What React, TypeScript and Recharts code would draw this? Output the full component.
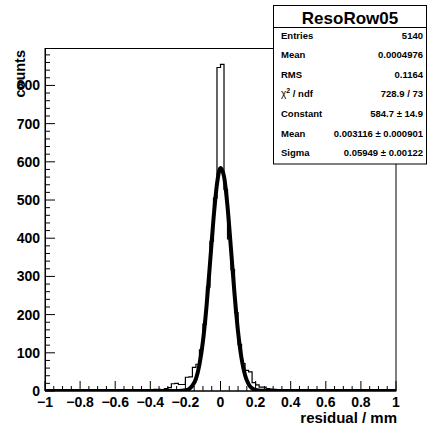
import { ComposedChart, Line, XAxis, YAxis } from "recharts";

// histogram: 100 bins of 0.02 from -1 to 1
const binLow = -1;
const binWidth = 0.02;
const counts = [
  0, 1, 0, 1, 0, 0, 1, 0, 1, 1,
  0, 1, 1, 0, 1, 0, 1, 2, 0, 1,
  1, 0, 2, 1, 1, 0, 2, 1, 1, 2,
  1, 4, 4, 2, 6, 9, 19, 20, 17, 17,
  36, 37, 62, 70, 108, 175, 272, 392, 505, 847,
  855, 528, 398, 318, 205, 122, 72, 54, 50, 22,
  16, 10, 10, 6, 5, 4, 3, 3, 2, 2,
  1, 1, 0, 2, 1, 0, 1, 1, 0, 1,
  0, 1, 0, 0, 1, 1, 0, 1, 0, 0,
  1, 0, 0, 1, 0, 0, 1, 0, 0, 1,
];

// gaussian fit curve
const fitX = [-1, -0.4, -0.3, -0.24, -0.2, -0.18, -0.16, -0.14, -0.12, -0.1, -0.08, -0.06, -0.04, -0.02, 0, 0.02, 0.04, 0.06, 0.08, 0.1, 0.12, 0.14, 0.16, 0.18, 0.2, 0.24, 0.3, 0.4, 1];
const fitY = [0, 0, 0, 0.3, 2, 5, 14, 32, 69, 130, 220, 333, 450, 542, 584, 562, 483, 370, 254, 155, 85, 41, 18, 7, 2.5, 0.4, 0, 0, 0];

const xLabels = [-1, -0.8, -0.6, -0.4, -0.2, 0, 0.2, 0.4, 0.6, 0.8, 1];
const yLabels = [0, 100, 200, 300, 400, 500, 600, 700, 800];
const yMax = 898;

const statsTitle = "ResoRow05";
const statsRows = [
  ["Entries", "5140"],
  ["Mean", "0.0004976"],
  ["RMS", "0.1164"],
  ["chi2", "728.9 / 73"],
  ["Constant", "584.7 \u00b1 14.9"],
  ["Mean", "0.003116 \u00b1 0.000901"],
  ["Sigma", "0.05949 \u00b1 0.00122"],
];

const FONT = '"Liberation Sans", Arial, Helvetica, sans-serif';

const histData = counts.map((c, i) => ({ x: binLow + i * binWidth, y: c }));
histData.push({ x: binLow + counts.length * binWidth, y: counts[counts.length - 1] });
const fitData = fitX.map((x, i) => ({ x, y: fitY[i] }));

const xTicks: number[] = [];
for (let k = 0; k <= 40; k++) xTicks.push(Math.round((-1 + k * 0.05) * 1000) / 1000);
const yTicks: number[] = [];
for (let k = 0; k <= 44; k++) yTicks.push(k * 20);

const fmt = (v: number) => {
  if (Math.abs(v) < 1e-9) return "0";
  const s = String(Math.round(Math.abs(v) * 10) / 10);
  return v < 0 ? "\u2212" + s : s;
};

const XTick = (props: any) => {
  const { x, y, payload } = props;
  const v = payload.value;
  const major = xLabels.some((l) => Math.abs(l - v) < 1e-6);
  return (
    <g>
      <line x1={x} x2={x} y1={y} y2={y - (major ? 10 : 5)} stroke="#000" strokeWidth={1} />
      {major && (
        <text x={x} y={y + 16} textAnchor="middle" fontFamily={FONT} fontWeight="bold" fontSize={14} fill="#000">
          {fmt(v)}
        </text>
      )}
    </g>
  );
};

const YTick = (props: any) => {
  const { x, y, payload } = props;
  const v = payload.value;
  const major = yLabels.includes(v);
  return (
    <g>
      <line x1={x} x2={x + (major ? 10 : 5)} y1={y} y2={y} stroke="#000" strokeWidth={1} />
      {major && (
        <text x={x - 5} y={y} dy="0.35em" textAnchor="end" fontFamily={FONT} fontWeight="bold" fontSize={14} fill="#000">
          {v}
        </text>
      )}
    </g>
  );
};

export default function App() {
  return (
    <div style={{ position: "absolute", left: 0, top: 0, width: 428, height: 432, background: "#fff" }}>
      <ComposedChart width={428} height={432} margin={{ top: 48, right: 32, bottom: 11, left: 5 }}>
        <XAxis
          dataKey="x"
          type="number"
          domain={[-1, 1]}
          ticks={xTicks}
          interval={0}
          height={30}
          tickSize={0}
          tickMargin={0}
          tickLine={false}
          tick={<XTick />}
          axisLine={{ stroke: "#000" }}
          allowDataOverflow
        />
        <YAxis
          type="number"
          domain={[0, yMax]}
          ticks={yTicks}
          interval={0}
          width={40}
          tickSize={0}
          tickMargin={0}
          tickLine={false}
          tick={<YTick />}
          axisLine={{ stroke: "#000" }}
          allowDataOverflow
        />
        <Line
          data={histData}
          dataKey="y"
          type="stepAfter"
          stroke="#000"
          strokeWidth={1.2}
          dot={false}
          isAnimationActive={false}
        />
        <Line
          data={fitData}
          dataKey="y"
          type="monotone"
          stroke="#000"
          strokeWidth={4}
          strokeLinejoin="round"
          dot={false}
          isAnimationActive={false}
        />
      </ComposedChart>
      <svg
        width={428}
        height={432}
        style={{ position: "absolute", left: 0, top: 0, pointerEvents: "none" }}
        fontFamily={FONT}
        fontWeight="bold"
      >
        <rect x={45.5} y={48.5} width={350.5} height={342.5} fill="none" stroke="#000" strokeWidth={1} />
        <text x={25} y={50} transform="rotate(-90 25 50)" textAnchor="end" fontSize={14.5} fill="#000">
          counts
        </text>
        <text x={397} y={423} textAnchor="end" fontSize={15} fill="#000">
          residual / mm
        </text>
        <rect x={273.5} y={5.5} width={153} height={158.5} fill="#fff" stroke="#000" strokeWidth={1} />
        <line x1={273.5} x2={426.5} y1={27.5} y2={27.5} stroke="#000" strokeWidth={1} />
        <text x={350} y={24} textAnchor="middle" fontSize={17} fill="#000">
          {statsTitle}
        </text>
        {statsRows.map((r, i) => {
          const yy = 38.5 + i * 19.6;
          return (
            <g key={i}>
              <text x={281} y={yy} fontSize={9.5} fill="#000">
                {r[0] === "chi2" ? (
                  <>
                    <tspan fontWeight="normal" fontSize={10}>{"\u03c7"}</tspan>
                    <tspan dy={-4} fontSize={7}>2</tspan>
                    <tspan dy={4}>{" / ndf"}</tspan>
                  </>
                ) : (
                  r[0]
                )}
              </text>
              <text x={423} y={yy} textAnchor="end" fontSize={9.5} fill="#000">
                {r[1]}
              </text>
            </g>
          );
        })}
      </svg>
    </div>
  );
}
